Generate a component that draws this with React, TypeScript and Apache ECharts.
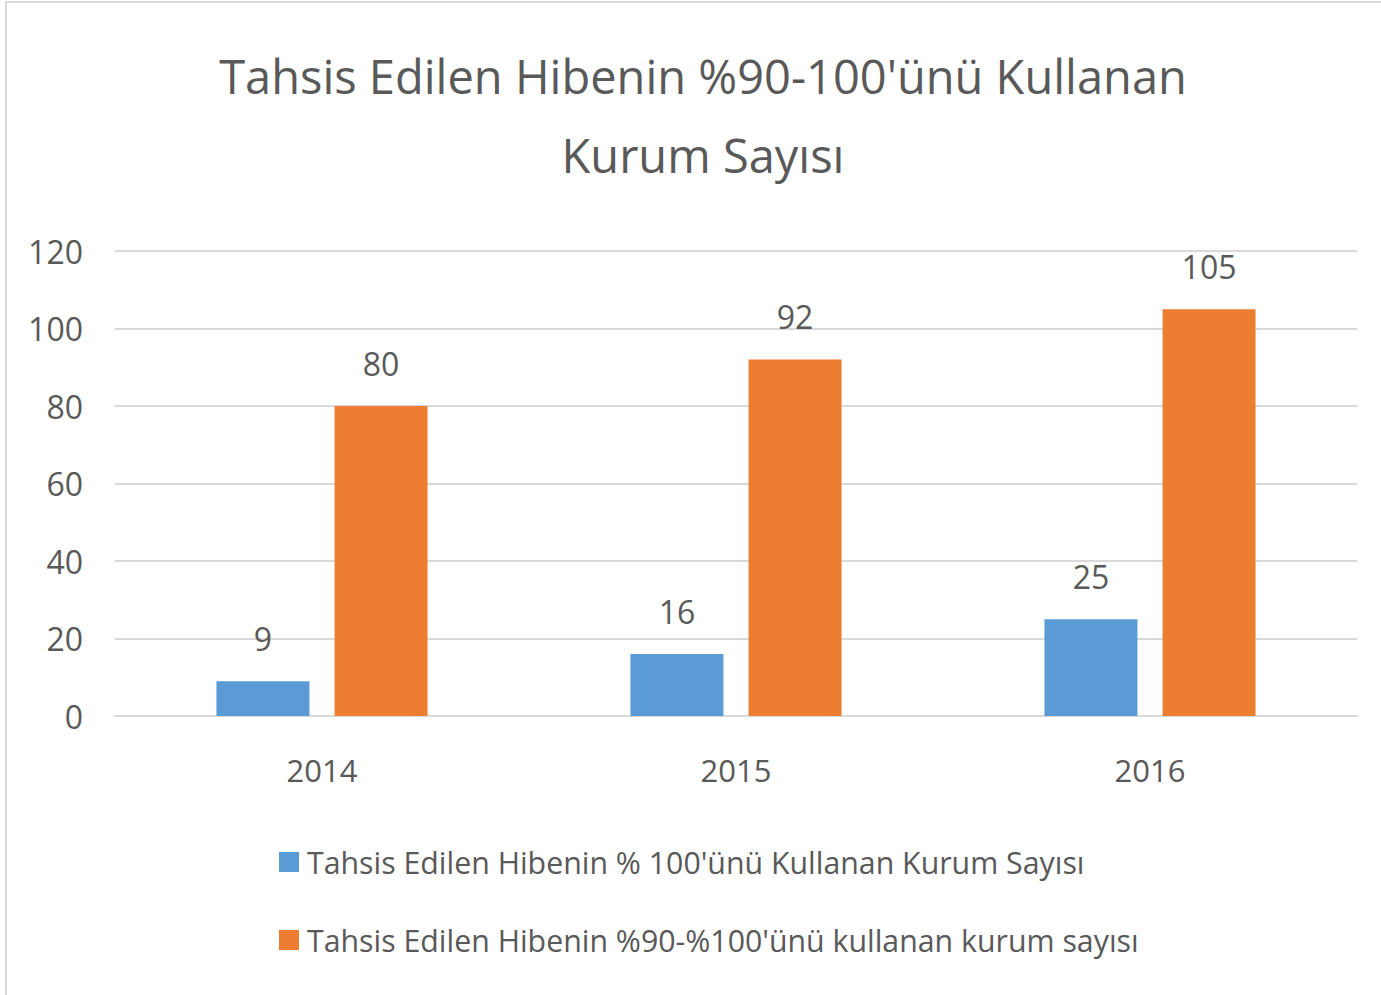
import React, { useEffect, useRef } from "react";
import * as echarts from "echarts";

const categories = ["2014", "2015", "2016"];
const seriesNames = [
  "Tahsis Edilen Hibenin % 100'ünü Kullanan Kurum Sayısı",
  "Tahsis Edilen Hibenin %90-%100'ünü kullanan kurum sayısı",
];
const full100 = [9, 16, 25];
const range90to100 = [80, 92, 105];
const titleText = "Tahsis Edilen Hibenin %90-100'ünü Kullanan\nKurum Sayısı";

const FONT = "'Open Sans', sans-serif";
const TEXT = "#595959";

export default function App() {
  const ref = useRef<HTMLDivElement>(null);
  useEffect(() => {
    if (!ref.current) return;
    const chart = echarts.init(ref.current, undefined, { renderer: "svg" });
    chart.setOption({
      animation: false,
      backgroundColor: "#ffffff",
      textStyle: { fontFamily: FONT },
      title: {
        text: titleText,
        left: 691,
        textAlign: "center",
        top: 28,
        textStyle: {
          fontFamily: FONT,
          fontSize: 47,
          fontWeight: "normal",
          color: TEXT,
          lineHeight: 79,
        },
      },
      legend: {
        orient: "vertical",
        left: 267,
        top: 839,
        itemWidth: 20,
        itemHeight: 20,
        itemGap: 48,
        icon: "rect",
        textStyle: { fontFamily: FONT, fontSize: 30.3, lineHeight: 30, color: TEXT, padding: [0, 0, 0, 3] },
        data: seriesNames,
      },
      grid: { left: 108, right: 24, top: 248, bottom: 279, containLabel: false },
      xAxis: {
        type: "category",
        data: categories,
        axisLine: { lineStyle: { color: "#D9D9D9", width: 2 } },
        axisTick: { show: false },
        axisLabel: { fontFamily: FONT, fontSize: 31, color: TEXT, margin: 38 },
      },
      yAxis: {
        type: "value",
        min: 0,
        max: 120,
        interval: 20,
        axisLine: { show: false },
        axisTick: { show: false },
        splitLine: { lineStyle: { color: "#D9D9D9", width: 2 } },
        axisLabel: { fontFamily: FONT, fontSize: 32, color: TEXT, margin: 32 },
      },
      series: [
        {
          name: seriesNames[0],
          type: "bar",
          data: full100,
          barWidth: 93,
          barGap: "27%",
          itemStyle: { color: "#5B9BD5" },
          label: { show: true, position: "top", distance: 27, fontFamily: FONT, fontSize: 32, color: TEXT },
        },
        {
          name: seriesNames[1],
          type: "bar",
          data: range90to100,
          barWidth: 93,
          barGap: "27%",
          itemStyle: { color: "#ED7D31" },
          label: { show: true, position: "top", distance: 27, fontFamily: FONT, fontSize: 32, color: TEXT },
        },
      ],
    });
    return () => chart.dispose();
  }, []);
  return (
    <div
      style={{
        position: "fixed",
        left: 0,
        top: 0,
        width: 1381,
        height: 995,
        background: "#fff",
      }}
    >
      <div
        ref={ref}
        style={{
          position: "absolute",
          left: 5,
          top: 1,
          width: 1376,
          height: 994,
          boxSizing: "border-box",
          border: "2px solid #D9D9D9",
          borderRight: "none",
          borderBottom: "none",
        }}
      />
    </div>
  );
}
